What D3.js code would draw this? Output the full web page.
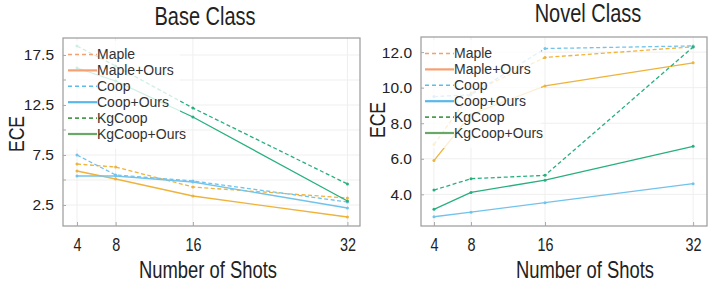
<!DOCTYPE html>
<html><head><meta charset="utf-8">
<script src="https://cdn.jsdelivr.net/npm/d3@7"></script>
<style>body{margin:0;background:#fff}svg{display:block}</style>
</head><body>
<svg id="c" width="718" height="285"></svg>
<script>
const shots = [4, 8, 16, 32];
const seriesNames = ["Maple", "Maple+Ours", "Coop", "Coop+Ours", "KgCoop", "KgCoop+Ours"];
const baseMaple = [6.6, 6.3, 4.3, 3.2];
const baseMapleOurs = [5.9, 5.1, 3.4, 1.3];
const baseCoop = [7.5, 5.5, 4.9, 2.8];
const baseCoopOurs = [5.4, 5.4, 4.8, 2.2];
const baseKgCoop = [18.4, 16.4, 12.2, 4.6];
const baseKgCoopOurs = [16.2, 14.9, 11.3, 2.9];
const novelMaple = [6.8, 9.7, 11.7, 12.3];
const novelMapleOurs = [5.9, 8.5, 10.1, 11.4];
const novelCoop = [9.5, 9.6, 12.2, 12.35];
const novelCoopOurs = [2.74, 3.0, 3.53, 4.6];
const novelKgCoop = [4.24, 4.88, 5.07, 12.29];
const novelKgCoopOurs = [3.16, 4.11, 4.8, 6.7];
const baseYTicks = [2.5, 7.5, 12.5, 17.5];
const baseYMinor = [5, 10, 15];
const novelYTicks = [4.0, 6.0, 8.0, 10.0, 12.0];

const lineColors = {Maple:"#eeb33a", Coop:"#72c3ec", KgCoop:"#27b07e"};
const legColors = ["#f4a070","#f4a070","#5bbde9","#5ab8e8","#4e9a4e","#6aa86a"];

const svg = d3.select("#c");
const SANS = "'Liberation Sans',Arial,sans-serif";
const SQ = 0.8;

function condText(parent, x, y, txt, size, rot){
  const g = parent.append("g").attr("transform", `translate(${x},${y})` + (rot ? " rotate(-90)" : "") + ` scale(${SQ},1)`);
  g.append("text").attr("text-anchor","middle").attr("font-family",SANS).attr("font-size",size)
    .attr("fill","#222").text(txt);
}

function panel(cfg){
  const g = svg.append("g");
  const x = d3.scaleLinear().domain(cfg.xDom).range([cfg.L, cfg.R]);
  const y = d3.scaleLinear().domain(cfg.yDom).range([cfg.B, cfg.T]);
  g.selectAll(".gx").data(shots).join("line")
    .attr("x1", d=>x(d)).attr("x2", d=>x(d)).attr("y1", cfg.T).attr("y2", cfg.B)
    .attr("stroke","#efefef").attr("stroke-width",1);
  g.selectAll(".gy").data(cfg.yTicks.concat(cfg.yMinor||[])).join("line")
    .attr("x1", cfg.L).attr("x2", cfg.R).attr("y1", d=>y(d)).attr("y2", d=>y(d))
    .attr("stroke","#efefef").attr("stroke-width",1);
  const line = d3.line().x((d,i)=>x(shots[i])).y(d=>y(d));
  cfg.series.forEach(s=>{
    g.append("path").attr("d", line(s.v)).attr("fill","none")
      .attr("stroke", s.c).attr("stroke-width",1.3)
      .attr("stroke-dasharray", s.dash ? "4,2.5" : null);
    g.selectAll(null).data(s.v).join("circle")
      .attr("cx",(d,i)=>x(shots[i])).attr("cy",d=>y(d)).attr("r",1.5).attr("fill",s.c);
  });
  g.append("rect").attr("x", cfg.L+2).attr("y", cfg.T+3).attr("width", cfg.legW).attr("height", 108)
    .attr("fill","#fff").attr("opacity",0.78);
  seriesNames.forEach((n,i)=>{
    const ly = cfg.legY0 + i*15.9;
    g.append("line").attr("x1", cfg.legX).attr("x2", cfg.legX+29).attr("y1", ly).attr("y2", ly)
      .attr("stroke", legColors[i]).attr("stroke-width", (i%2)?2.2:1.6)
      .attr("stroke-dasharray", (i%2)? null : "4,3");
    g.append("text").attr("x", cfg.legX+29).attr("y", ly).attr("dy","0.35em")
      .attr("font-family",SANS).attr("font-size",14)
      .attr("fill","#333").text(n);
  });
  g.append("rect").attr("x",cfg.L).attr("y",cfg.T).attr("width",cfg.R-cfg.L).attr("height",cfg.B-cfg.T)
    .attr("fill","none").attr("stroke","#9a9a9a").attr("stroke-width",1.2);
  const xa = d3.axisBottom(x).tickValues(shots).tickSizeInner(-4).tickSizeOuter(0).tickPadding(12);
  const gx = g.append("g").attr("transform",`translate(0,${cfg.B})`).call(xa);
  gx.select(".domain").remove();
  gx.selectAll(".tick line").attr("stroke","#aaa");
  gx.selectAll("text").attr("font-family",SANS).attr("font-size",18).attr("fill","#222")
    .attr("transform",`scale(${SQ},1)`);
  const ya = d3.axisLeft(y).tickValues(cfg.yTicks).tickFormat(d3.format(".1f")).tickSizeInner(-3).tickSizeOuter(0).tickPadding(9);
  const gy = g.append("g").attr("transform",`translate(${cfg.L},0)`).call(ya);
  gy.select(".domain").remove();
  gy.selectAll(".tick line").attr("stroke","#aaa");
  gy.selectAll("text").attr("font-family",SANS).attr("font-size",15.5).attr("fill","#222");
  if (cfg.yMinor) {
    g.selectAll(null).data(cfg.yMinor).join("line")
      .attr("x1",cfg.L).attr("x2",cfg.L+3).attr("y1",d=>y(d)).attr("y2",d=>y(d)).attr("stroke","#aaa");
  }
  condText(g, cfg.titleX, cfg.titleY, cfg.title, 25, false);
  condText(g, cfg.eceX, cfg.eceY, "ECE", 22, true);
  condText(g, cfg.xlabX, 278, "Number of Shots", 23, false);
}

panel({
  L:63, R:360, T:38, B:226, xDom:[2.55,33.3], yDom:[0.4,19.2],
  yTicks: baseYTicks, yMinor: baseYMinor,
  series:[
    {v:baseMaple, c:lineColors.Maple, dash:true},
    {v:baseMapleOurs, c:lineColors.Maple},
    {v:baseCoop, c:lineColors.Coop, dash:true},
    {v:baseCoopOurs, c:lineColors.Coop},
    {v:baseKgCoop, c:lineColors.KgCoop, dash:true},
    {v:baseKgCoopOurs, c:lineColors.KgCoop}
  ],
  legW:115, legX:68, legY0:54.5,
  title:"Base Class", titleX:205, titleY:25, eceX:24, eceY:134, xlabX:208
});
panel({
  L:421, R:707, T:37, B:226, xDom:[2.6,33.5], yDom:[2.22,12.85],
  yTicks: novelYTicks, yMinor: null,
  series:[
    {v:novelMaple, c:lineColors.Maple, dash:true},
    {v:novelMapleOurs, c:lineColors.Maple},
    {v:novelCoop, c:lineColors.Coop, dash:true},
    {v:novelCoopOurs, c:lineColors.Coop},
    {v:novelKgCoop, c:lineColors.KgCoop, dash:true},
    {v:novelKgCoopOurs, c:lineColors.KgCoop}
  ],
  legW:118, legX:425, legY0:53.5,
  title:"Novel Class", titleX:588, titleY:22, eceX:385, eceY:120, xlabX:585
});
</script>
</body></html>
